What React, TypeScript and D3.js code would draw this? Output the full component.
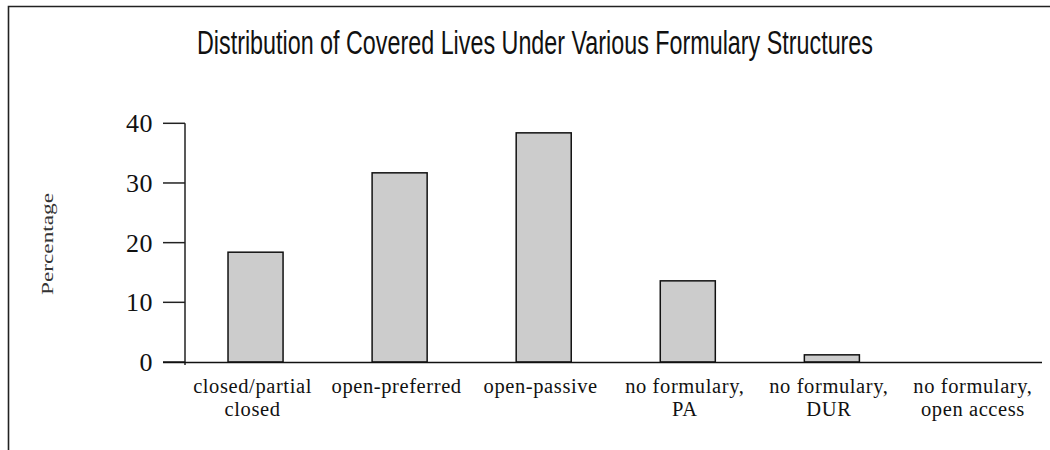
import React from "react";
import * as d3 from "d3";

const categories = [
  "closed/partial\nclosed",
  "open-preferred",
  "open-passive",
  "no formulary,\nPA",
  "no formulary,\nDUR",
  "no formulary,\nopen access",
];
const values = [18.4, 31.7, 38.4, 13.6, 1.2, 0];
const yTicks = [0, 10, 20, 30, 40];
const title = "Distribution of Covered Lives Under Various Formulary Structures";
const yLabel = "Percentage";

export default function App() {
  const W = 1050;
  const H = 450;
  const x = d3
    .scaleBand<string>()
    .domain(categories)
    .range([183.5, 1048])
    .paddingInner(0.618)
    .paddingOuter(0.309);
  const y = d3.scaleLinear().domain([0, 40]).range([362, 123.3]);
  const serif = "'Liberation Serif', 'Times New Roman', serif";

  return (
    <svg
      width={W}
      height={H}
      style={{ position: "absolute", left: 0, top: 0, background: "#fff" }}
    >
      <rect x={0} y={0} width={W} height={H} fill="#fff" />
      {/* frame */}
      <path d={`M8.5,${H + 2} V6.5 H${W + 2}`} fill="none" stroke="#222" strokeWidth={1.6} />
      {/* title */}
      <text
        x={535}
        y={54}
        textAnchor="middle"
        fontFamily="'Liberation Sans', Arial, sans-serif"
        fontSize={34}
        fontWeight={300}
        textLength={676}
        lengthAdjust="spacingAndGlyphs"
        fill="#111"
      >
        {title}
      </text>
      {/* y label */}
      <text
        transform={`translate(53,244) rotate(-90)`}
        textAnchor="middle"
        fontFamily={serif}
        fontSize={17}
        textLength={102}
        lengthAdjust="spacingAndGlyphs"
        fill="#333"
      >
        {yLabel}
      </text>
      {/* bars */}
      {categories.map((c, i) => (
        <rect
          key={c}
          x={x(c)!}
          y={y(values[i])}
          width={x.bandwidth()}
          height={Math.max(0, y(0) - y(values[i]))}
          fill="#cccccc"
          stroke="#111"
          strokeWidth={1.5}
        />
      ))}
      {/* y axis */}
      <line x1={185} x2={185} y1={y(40)} y2={365} stroke="#222" strokeWidth={1.5} />
      {yTicks.map((t) => (
        <g key={t}>
          <line x1={163} x2={185} y1={y(t)} y2={y(t)} stroke="#222" strokeWidth={1.5} />
          <text
            x={153}
            y={y(t)}
            dy="0.35em"
            textAnchor="end"
            fontFamily={serif}
            fontSize={26}
            letterSpacing={0.5}
            fill="#111"
          >
            {t}
          </text>
        </g>
      ))}
      {/* x axis */}
      <line x1={163} x2={1042} y1={362.5} y2={362.5} stroke="#111" strokeWidth={1.6} />
      {categories.map((c) => {
        const cx = x(c)! + x.bandwidth() / 2 - 3;
        return (
          <text
            key={c}
            x={cx}
            y={393}
            textAnchor="middle"
            fontFamily={serif}
            fontSize={20.5}
            letterSpacing={0.6}
            fill="#111"
          >
            {c.split("\n").map((line, j) => (
              <tspan key={j} x={cx} dy={j === 0 ? 0 : 23}>
                {line}
              </tspan>
            ))}
          </text>
        );
      })}
    </svg>
  );
}
